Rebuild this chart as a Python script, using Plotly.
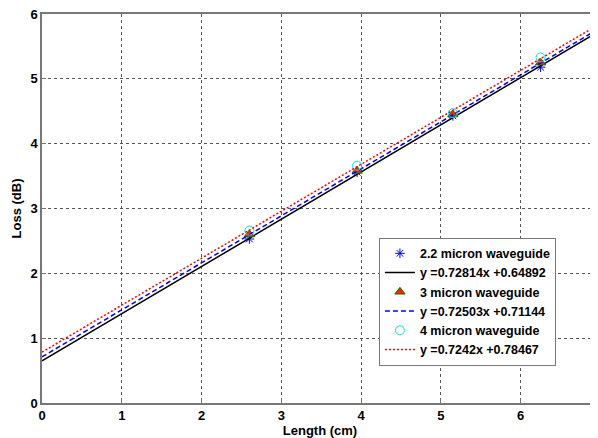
import plotly.graph_objects as go

lengths = [2.6, 3.95, 5.15, 6.25]
loss_22 = [2.53, 3.56, 4.43, 5.18]
loss_3 = [2.60, 3.58, 4.45, 5.25]
loss_4 = [2.66, 3.66, 4.47, 5.33]

slopes = [0.72814, 0.72503, 0.7242]
intercepts = [0.64892, 0.71144, 0.78467]
fit_labels = ["y =0.72814x +0.64892", "y =0.72503x +0.71144", "y =0.7242x +0.78467"]
point_labels = ["2.2 micron waveguide", "3 micron waveguide", "4 micron waveguide"]
fit_x = [0, 7]

font_family = "Liberation Sans, Arial, sans-serif"

fig = go.Figure()

def fit_y(i):
    return [slopes[i] * x + intercepts[i] for x in fit_x]

fig.add_trace(go.Scatter(x=lengths, y=loss_22, mode="markers", name=point_labels[0],
                         marker=dict(symbol="asterisk-open", size=8, color="#0000ff",
                                     line=dict(color="#0000ff", width=1))))
fig.add_trace(go.Scatter(x=fit_x, y=fit_y(0), mode="lines", name=fit_labels[0],
                         line=dict(color="black", width=1.5)))
fig.add_trace(go.Scatter(x=lengths, y=loss_3, mode="markers", name=point_labels[1],
                         marker=dict(symbol="triangle-up", size=9, color="#ff2000",
                                     line=dict(color="#008000", width=1))))
fig.add_trace(go.Scatter(x=fit_x, y=fit_y(1), mode="lines", name=fit_labels[1],
                         line=dict(color="#0000ff", width=1.5, dash="5px,3px")))
fig.add_trace(go.Scatter(x=lengths, y=loss_4, mode="markers", name=point_labels[2],
                         marker=dict(symbol="circle-open", size=9, color="#00e0e0",
                                     line=dict(color="#00e0e0", width=1))))
fig.add_trace(go.Scatter(x=fit_x, y=fit_y(2), mode="lines", name=fit_labels[2],
                         line=dict(color="#ff0000", width=1.5, dash="2px,2px")))

axis_common = dict(showgrid=True, gridcolor="#555555", griddash="dot", gridwidth=1,
                   showline=True, linecolor="#777777", linewidth=1.5, mirror=True,
                   zeroline=False, ticks="inside", ticklen=4, tickcolor="#777777",
                   automargin=False, ticklabeloverflow="allow",
                   tickfont=dict(family=font_family, size=13, color="black", weight="bold"))

fig.update_layout(
    width=590, height=430,
    margin=dict(l=34, r=0, t=6, b=35, autoexpand=False),
    paper_bgcolor="white", plot_bgcolor="white",
    showlegend=True,
    legend=dict(x=0.606, y=0.425, xanchor="left", yanchor="top",
                bgcolor="white", bordercolor="#777777", borderwidth=1,
                font=dict(family=font_family, size=12.5, color="black", weight="bold"),
                tracegroupgap=0, itemwidth=30),
    xaxis=dict(range=[0, 6.97], tickvals=[0, 1, 2, 3, 4, 5, 6],
               title=dict(text="Length (cm)", standoff=2,
                          font=dict(family=font_family, size=13, color="black", weight="bold")),
               **axis_common),
    yaxis=dict(range=[0, 6], tickvals=[0, 1, 2, 3, 4, 5, 6],
               title=dict(text="Loss (dB)", standoff=6,
                          font=dict(family=font_family, size=13, color="black", weight="bold")),
               **axis_common),
)

fig.write_html("out.html")
